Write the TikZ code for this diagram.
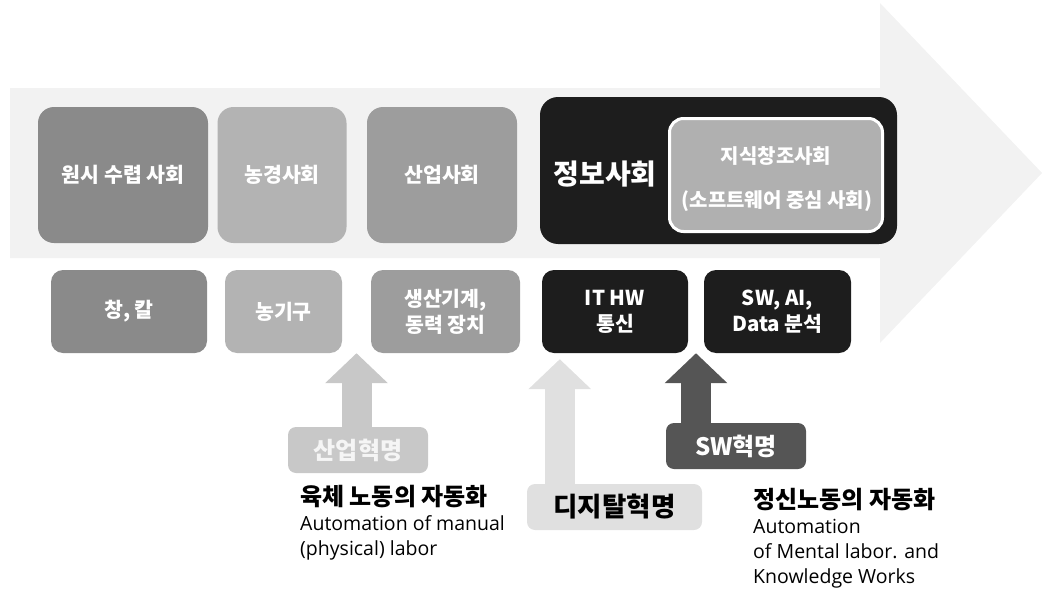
\documentclass[tikz,border=0pt]{standalone}
\usepackage{fontspec}
\setmainfont{Noto Sans CJK KR}
\newfontfamily\engfont{Open Sans}
\usepackage{tikz}
\usetikzlibrary{arrows.meta,positioning,calc}
\definecolor{bandgray}{RGB}{242,242,242}
\definecolor{huntgray}{RGB}{138,138,138}
\definecolor{farmgray}{RGB}{179,179,179}
\definecolor{indgray}{RGB}{157,157,157}
\definecolor{infoblack}{RGB}{29,29,29}
\definecolor{knowgray}{RGB}{176,176,176}
\definecolor{revind}{RGB}{200,200,200}
\definecolor{revdig}{RGB}{224,224,224}
\definecolor{revsw}{RGB}{85,85,85}

\begin{document}
\begin{tikzpicture}[x=1pt,y=-1pt,
    era/.style={rectangle,rounded corners=16pt,inner sep=0pt,minimum height=136pt,
      text=white,align=center,font=\fontsize{20.5}{24}\selectfont\bfseries},
    tool/.style={rectangle,rounded corners=12pt,inner sep=0pt,minimum height=83pt,
      text=white,align=center,font=\fontsize{20.5}{26}\selectfont\bfseries},
    revbox/.style={rectangle,rounded corners=8pt,inner sep=0pt,minimum height=46pt,
      font=\fontsize{24}{28}\selectfont\bfseries},
    uparrow/.style={line width=30pt,-{Triangle[width=61pt,length=30pt]}},
    note/.style={anchor=west,inner sep=0pt,font=\fontsize{24}{28}\selectfont\bfseries},
    engnote/.style={inner sep=0pt,align=left,font=\engfont\fontsize{19.5}{25}\selectfont}]
   \useasboundingbox (0,0) rectangle (1042,589);

   % 큰 배경 화살표
   \fill[bandgray] (10,88) -- (880,88) -- (880,3) -- (1042,173)
     -- (880,343) -- (880,258) -- (10,258) -- cycle;

   % 사회 단계
   \node[era,fill=huntgray,minimum width=170pt] (hunt) at (123,175) {원시 수렵 사회};
   \node[era,fill=farmgray,minimum width=129pt] (farm) at (282,175) {농경사회};
   \node[era,fill=indgray,minimum width=150pt] (ind) at (442,175) {산업사회};
   \node[rectangle,rounded corners=18pt,fill=infoblack,minimum width=357pt,
     minimum height=147pt] (info) at (718.5,170.5) {};
   \node[text=white,font=\fontsize{28}{32}\selectfont\bfseries] (infotxt) at (605,174) {정보사회};
   \node[rectangle,rounded corners=14pt,fill=knowgray,draw=white,line width=3pt,
     minimum width=213pt,minimum height=113pt] (know) at (776,175) {};
   \node[text=white,font=\fontsize{20}{24}\selectfont\bfseries] (knowtxt) at (776,156) {지식창조사회};
   \node[text=white,font=\fontsize{20}{24}\selectfont\bfseries] (softtxt) at (777,201) {(소프트웨어 중심 사회)};

   % 도구
   \node[tool,fill=huntgray,minimum width=156pt] (spear) at (129,311.5) {창, 칼};
   \node[tool,fill=farmgray,minimum width=117pt] (farmtool) at (283.5,311.5) {농기구};
   \node[tool,fill=indgray,minimum width=149pt] (machine) at (445.5,311.5) {생산기계,\\동력 장치};
   \node[tool,fill=infoblack,minimum width=146pt] (ithw) at (615,311.5) {IT HW\\통신};
   \node[tool,fill=infoblack,minimum width=147pt] (swai) at (777.5,311.5) {SW, AI,\\Data 분석};

   % 혁명
   \node[revbox,fill=revind,text=white!96!black,minimum width=140pt] (indrev) at (358,450) {산업혁명};
   \node[revbox,fill=revdig,text=black,minimum width=175pt,
     font=\fontsize{26.5}{30}\selectfont\bfseries] (digrev) at (614.5,507) {디지탈혁명};
   \node[revbox,fill=revsw,text=white,minimum width=140pt] (swrev) at (736,446) {SW혁명};

   \coordinate (indtip) at ($(farmtool.south east)!0.5!(machine.south west)$);
   \coordinate (digtip) at ($(ithw.south west)+(18,6)$);
   \coordinate (swtip) at ($(ithw.south east)!0.5!(swai.south west)$);
   \draw[uparrow,revind] (indrev.north -| indtip) -- (indtip);
   \draw[uparrow,revdig] (digrev.north -| digtip) -- (digtip);
   \draw[uparrow,revsw] (swrev.north -| swtip) -- (swtip);

   % 자동화 설명
   \node[note] (manualkr) at (300,497) {육체 노동의 자동화};
   \node[engnote,below=7pt of manualkr.south west,anchor=north west] (manualen)
     {Automation of manual\\(physical) labor};
   \node[note] (mentalkr) at (753,500) {정신노동의 자동화};
   \node[engnote,below=7pt of mentalkr.south west,anchor=north west] (mentalen)
     {Automation\\of Mental labor. and\\Knowledge Works};

\end{tikzpicture}
\end{document}
